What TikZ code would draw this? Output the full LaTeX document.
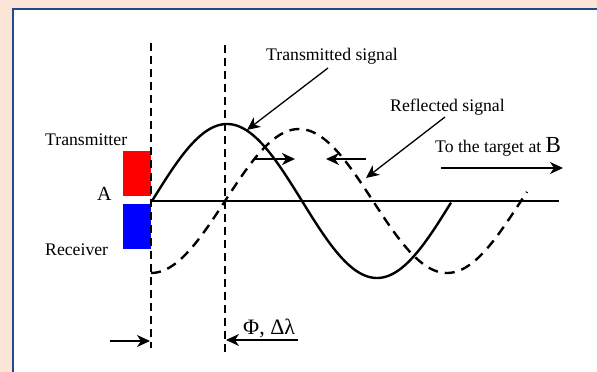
\documentclass[tikz,border=0pt]{standalone}
\usepackage{fontspec}
\setmainfont{Liberation Serif}
\usetikzlibrary{arrows.meta}
\definecolor{peach}{HTML}{FCE4D6}
\definecolor{frameblue}{HTML}{1F4A8C}
\definecolor{txred}{HTML}{FF0000}
\definecolor{rxblue}{HTML}{0000FF}
\begin{document}
\begin{tikzpicture}[x=1pt,y=-1pt,
  lbl/.style={inner sep=0pt,anchor=base west,font=\fontsize{17.7}{20}\selectfont},
  guide/.style={line width=1.8pt,dash pattern=on 8pt off 5pt},
  wave/.style={line width=2.4pt},
  rwave/.style={line width=2.4pt,dash pattern=on 10pt off 7pt},
  callout/.style={line width=1.3pt,-{Stealth[length=13pt,width=12pt,inset=4pt]}},
  motion/.style={line width=2.2pt,-{Stealth[length=13pt,width=12pt,inset=4pt]}},
  dimarrow/.style={line width=1.8pt,-{Stealth[length=13pt,width=12pt,inset=4pt]}}]
\useasboundingbox (0,0) rectangle (597,372);
\fill[peach] (0,0) rectangle (597,372);
\fill[white] (13,9) rectangle (597,372);
\draw[frameblue,line width=2.6pt] (13,372) -- (13,9) -- (597,9);
% transmitter / receiver boxes
\fill[txred] (123,151) rectangle (151,196);
\fill[rxblue] (123,204) rectangle (151,249);
% dashed guides
\coordinate (g1t) at (151,43); \coordinate (g1b) at (151,348);
\coordinate (g2t) at (225,45); \coordinate (g2b) at (225,352);
\draw[guide] (g1t) -- (g1b);
\draw[guide] (g2t) -- (g2b);
% axis
\coordinate (ax0) at (152,201); \coordinate (ax1) at (559,201);
\draw[line width=2pt] (ax0) -- (ax1);
% transmitted signal
\draw[wave] plot[domain=152:451,samples=120,smooth] (\x,{201-77*sin((\x-152)*1.2)});
% reflected signal
\draw[rwave] plot[domain=151:527,samples=140,smooth] (\x,{201+72*cos((\x-151)*1.2162)});
% labels
\node[lbl] (tx) at (45,145) {Transmitter};
\node[lbl,font=\fontsize{20}{22}\selectfont] (A) at (97,200) {A};
\node[lbl] (rx) at (45,255) {Receiver};
\node[lbl] (ts) at (266,60) {Transmitted signal};
\node[lbl] (rs) at (390,111) {Reflected signal};
\node[lbl] (tb) at (435,152) {To the target at {\fontsize{23}{24}\selectfont B}};
\node[lbl,font=\fontsize{22}{24}\selectfont] (phi) at (243,334) {Φ, Δλ};
% callouts
\coordinate (ts0) at (328,68); \coordinate (ts1) at (247,130);
\draw[callout] (ts0) -- (ts1);
\coordinate (rs0) at (445,117); \coordinate (rs1) at (366,178);
\draw[callout] (rs0) -- (rs1);
\coordinate (tb0) at (441,168); \coordinate (tb1) at (563,168);
\draw[dimarrow] (tb0) -- (tb1);
% motion arrows
\coordinate (m1a) at (254,159); \coordinate (m1b) at (295,159);
\draw[motion] (m1a) -- (m1b);
\coordinate (m2a) at (366,159); \coordinate (m2b) at (326,159);
\draw[motion] (m2a) -- (m2b);
% phase arrows
\coordinate (p1a) at (110,341); \coordinate (p1b) at (150,341);
\draw[dimarrow] (p1a) -- (p1b);
\coordinate (p2a) at (298,340); \coordinate (p2b) at (226,340);
\draw[dimarrow] (p2a) -- (p2b);
\end{tikzpicture}
\end{document}
